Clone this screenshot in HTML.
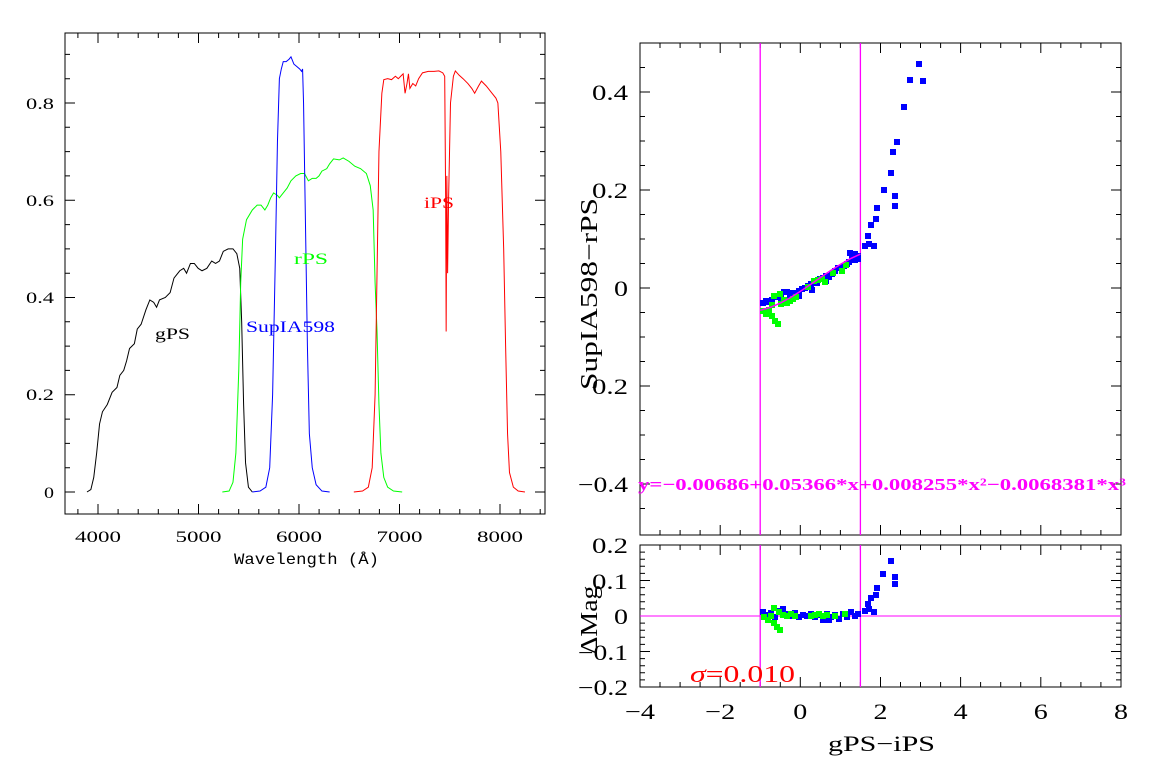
<!DOCTYPE html>
<html><head><meta charset="utf-8"><style>
html,body{margin:0;padding:0;background:#fff;}
svg{display:block;}
text{font-family:"Liberation Serif",serif;}
</style></head><body>
<svg width="1154" height="766" viewBox="0 0 1154 766" xmlns="http://www.w3.org/2000/svg">
<rect width="1154" height="766" fill="#fff"/>
<!-- LEFT PLOT -->
<rect x="65" y="33" width="480" height="481" fill="none" stroke="#000" stroke-width="1"/>
<g stroke="#000" stroke-width="1">
<path d="M98,514v-10M198.5,514v-10M299,514v-10M399.5,514v-10M500,514v-10M98,33v10M198.5,33v10M299,33v10M399.5,33v10M500,33v10"/>
<path d="M77.9,514v-5M118.1,514v-5M138.2,514v-5M158.3,514v-5M178.4,514v-5M218.6,514v-5M238.7,514v-5M258.8,514v-5M278.9,514v-5M319.1,514v-5M339.2,514v-5M359.3,514v-5M379.4,514v-5M419.6,514v-5M439.7,514v-5M459.8,514v-5M479.9,514v-5M520.1,514v-5M540.2,514v-5
M77.9,33v5M118.1,33v5M138.2,33v5M158.3,33v5M178.4,33v5M218.6,33v5M238.7,33v5M258.8,33v5M278.9,33v5M319.1,33v5M339.2,33v5M359.3,33v5M379.4,33v5M419.6,33v5M439.7,33v5M459.8,33v5M479.9,33v5M520.1,33v5M540.2,33v5"/>
<path d="M65,492h10M65,394.75h10M65,297.5h10M65,200.25h10M65,103h10M545,492h-10M545,394.75h-10M545,297.5h-10M545,200.25h-10M545,103h-10"/>
<path d="M65,467.7h5M65,443.4h5M65,419.1h5M65,370.4h5M65,346.1h5M65,321.8h5M65,273.2h5M65,248.9h5M65,224.6h5M65,175.9h5M65,151.6h5M65,127.3h5M65,78.7h5M65,54.4h5
M545,467.7h-5M545,443.4h-5M545,419.1h-5M545,370.4h-5M545,346.1h-5M545,321.8h-5M545,273.2h-5M545,248.9h-5M545,224.6h-5M545,175.9h-5M545,151.6h-5M545,127.3h-5M545,78.7h-5M545,54.4h-5"/>
</g>
<g font-size="16" fill="#000" lengthAdjust="spacingAndGlyphs">
<text x="44" y="498" textLength="10" lengthAdjust="spacingAndGlyphs">0</text>
<text x="26" y="400" textLength="28" lengthAdjust="spacingAndGlyphs">0.2</text>
<text x="26" y="303" textLength="28" lengthAdjust="spacingAndGlyphs">0.4</text>
<text x="26" y="206" textLength="28" lengthAdjust="spacingAndGlyphs">0.6</text>
<text x="26" y="109" textLength="28" lengthAdjust="spacingAndGlyphs">0.8</text>
<text x="75" y="542" textLength="46" lengthAdjust="spacingAndGlyphs">4000</text>
<text x="175.5" y="542" textLength="46" lengthAdjust="spacingAndGlyphs">5000</text>
<text x="276" y="542" textLength="46" lengthAdjust="spacingAndGlyphs">6000</text>
<text x="376.5" y="542" textLength="46" lengthAdjust="spacingAndGlyphs">7000</text>
<text x="477" y="542" textLength="46" lengthAdjust="spacingAndGlyphs">8000</text>
</g>
<text x="234" y="564" font-size="16" textLength="145" lengthAdjust="spacingAndGlyphs" style="font-family:'Liberation Mono',monospace">Wavelength (Å)</text>
<g transform="matrix(0.09668 0 0 -486.25 -289.1 492)" fill="none" stroke-width="1">
<polyline vector-effect="non-scaling-stroke" stroke="#000" points="3890,0 3930,0.005 3960,0.03 3990,0.08 4020,0.14 4050,0.165 4100,0.18 4150,0.205 4200,0.215 4230,0.24 4270,0.25 4300,0.27 4330,0.295 4380,0.305 4410,0.335 4450,0.345 4500,0.375 4540,0.395 4580,0.39 4610,0.38 4640,0.395 4700,0.4 4750,0.41 4790,0.44 4850,0.455 4890,0.46 4920,0.45 4960,0.47 5000,0.47 5040,0.46 5080,0.455 5130,0.46 5180,0.475 5220,0.47 5260,0.475 5300,0.495 5350,0.5 5400,0.5 5440,0.49 5470,0.46 5490,0.35 5510,0.18 5530,0.06 5560,0.01 5600,0"/>
<polyline vector-effect="non-scaling-stroke" stroke="#00ff00" points="5290,0 5360,0.002 5400,0.02 5430,0.08 5460,0.25 5480,0.43 5500,0.52 5540,0.56 5600,0.58 5650,0.59 5690,0.59 5730,0.58 5760,0.59 5790,0.605 5820,0.615 5860,0.61 5880,0.605 5920,0.615 5960,0.625 6000,0.64 6050,0.65 6100,0.655 6140,0.655 6180,0.64 6220,0.645 6260,0.645 6290,0.65 6320,0.66 6370,0.665 6400,0.675 6440,0.685 6500,0.683 6540,0.687 6600,0.68 6660,0.67 6720,0.665 6780,0.655 6820,0.63 6850,0.58 6870,0.43 6890,0.33 6910,0.18 6930,0.08 6960,0.03 7000,0.01 7060,0.002 7150,0"/>
<polyline vector-effect="non-scaling-stroke" stroke="#0000ff" points="5600,0 5680,0.002 5740,0.01 5780,0.05 5810,0.2 5840,0.5 5860,0.72 5880,0.85 5900,0.87 5920,0.885 5950,0.885 5980,0.89 6000,0.895 6030,0.88 6060,0.875 6090,0.87 6110,0.865 6120,0.87 6130,0.8 6150,0.55 6170,0.3 6190,0.12 6220,0.05 6260,0.015 6320,0.002 6400,0"/>
<polyline vector-effect="non-scaling-stroke" stroke="#ff0000" points="6650,0 6740,0.002 6800,0.01 6840,0.05 6870,0.2 6890,0.45 6910,0.7 6940,0.82 6960,0.848 7000,0.85 7040,0.848 7080,0.855 7110,0.85 7140,0.856 7160,0.86 7180,0.82 7200,0.84 7215,0.86 7230,0.83 7260,0.84 7290,0.835 7320,0.85 7360,0.862 7420,0.865 7480,0.865 7530,0.866 7570,0.862 7590,0.855 7600,0.6 7605,0.33 7612,0.65 7620,0.45 7630,0.6 7650,0.8 7680,0.855 7700,0.866 7740,0.857 7780,0.85 7830,0.84 7870,0.83 7900,0.82 7940,0.835 7970,0.845 8020,0.835 8080,0.82 8120,0.81 8140,0.8 8170,0.7 8200,0.5 8220,0.3 8240,0.12 8260,0.04 8300,0.01 8350,0.002 8420,0"/>
</g>
<text x="155" y="339" font-size="16" fill="#000" textLength="35" lengthAdjust="spacingAndGlyphs">gPS</text>
<text x="246" y="332" font-size="16" fill="#0000ff" textLength="89" lengthAdjust="spacingAndGlyphs">SupIA598</text>
<text x="294" y="264" font-size="16" fill="#00ff00" textLength="34" lengthAdjust="spacingAndGlyphs">rPS</text>
<text x="424" y="208" font-size="16" fill="#ff0000" textLength="30" lengthAdjust="spacingAndGlyphs">iPS</text>

<!-- RIGHT PLOTS -->
<rect x="640" y="43" width="481" height="492" fill="none" stroke="#000" stroke-width="1"/>
<rect x="640" y="545" width="481" height="142" fill="none" stroke="#000" stroke-width="1"/>
<g stroke="#000" stroke-width="1">
<path d="M640,535v-10M720.2,535v-10M800.3,535v-10M880.5,535v-10M960.6,535v-10M1040.8,535v-10M640,43v10M720.2,43v10M800.3,43v10M880.5,43v10M960.6,43v10M1040.8,43v10"/>
<path d="M660,535v-5M680.1,535v-5M700.1,535v-5M740.2,535v-5M760.2,535v-5M780.3,535v-5M820.3,535v-5M840.4,535v-5M860.4,535v-5M900.5,535v-5M920.5,535v-5M940.6,535v-5M980.6,535v-5M1000.7,535v-5M1020.7,535v-5M1060.8,535v-5M1080.9,535v-5M1100.9,535v-5
M660,43v5M680.1,43v5M700.1,43v5M740.2,43v5M760.2,43v5M780.3,43v5M820.3,43v5M840.4,43v5M860.4,43v5M900.5,43v5M920.5,43v5M940.6,43v5M980.6,43v5M1000.7,43v5M1020.7,43v5M1060.8,43v5M1080.9,43v5M1100.9,43v5"/>
<path d="M640,687v-10M720.2,687v-10M800.3,687v-10M880.5,687v-10M960.6,687v-10M1040.8,687v-10M640,545v10M720.2,545v10M800.3,545v10M880.5,545v10M960.6,545v10M1040.8,545v10"/>
<path d="M660,687v-5M680.1,687v-5M700.1,687v-5M740.2,687v-5M760.2,687v-5M780.3,687v-5M820.3,687v-5M840.4,687v-5M860.4,687v-5M900.5,687v-5M920.5,687v-5M940.6,687v-5M980.6,687v-5M1000.7,687v-5M1020.7,687v-5M1060.8,687v-5M1080.9,687v-5M1100.9,687v-5
M660,545v5M680.1,545v5M700.1,545v5M740.2,545v5M760.2,545v5M780.3,545v5M820.3,545v5M840.4,545v5M860.4,545v5M900.5,545v5M920.5,545v5M940.6,545v5M980.6,545v5M1000.7,545v5M1020.7,545v5M1060.8,545v5M1080.9,545v5M1100.9,545v5"/>
<path d="M640,484h10M640,386h10M640,288h10M640,190h10M640,92h10M1121,484h-10M1121,386h-10M1121,288h-10M1121,190h-10M1121,92h-10"/>
<path d="M640,508.5h5M640,459.5h5M640,435h5M640,410.5h5M640,361.5h5M640,337h5M640,312.5h5M640,263.5h5M640,239h5M640,214.5h5M640,165.5h5M640,141h5M640,116.5h5M640,67.5h5
M1121,508.5h-5M1121,459.5h-5M1121,435h-5M1121,410.5h-5M1121,361.5h-5M1121,337h-5M1121,312.5h-5M1121,263.5h-5M1121,239h-5M1121,214.5h-5M1121,165.5h-5M1121,141h-5M1121,116.5h-5M1121,67.5h-5"/>
<path d="M640,580.5h10M640,616h10M640,651.5h10M1121,580.5h-10M1121,616h-10M1121,651.5h-10"/>
<path d="M640,552.1h5M640,559.2h5M640,566.3h5M640,573.4h5M640,587.6h5M640,594.7h5M640,601.8h5M640,608.9h5M640,623.1h5M640,630.2h5M640,637.3h5M640,644.4h5M640,658.6h5M640,665.7h5M640,672.8h5M640,679.9h5
M1121,552.1h-5M1121,559.2h-5M1121,566.3h-5M1121,573.4h-5M1121,587.6h-5M1121,594.7h-5M1121,601.8h-5M1121,608.9h-5M1121,623.1h-5M1121,630.2h-5M1121,637.3h-5M1121,644.4h-5M1121,658.6h-5M1121,665.7h-5M1121,672.8h-5M1121,679.9h-5"/>
</g>
<g font-size="22" fill="#000">
<text x="592" y="100" textLength="36" lengthAdjust="spacingAndGlyphs">0.4</text>
<text x="592" y="198" textLength="36" lengthAdjust="spacingAndGlyphs">0.2</text>
<text x="614" y="296" textLength="14" lengthAdjust="spacingAndGlyphs">0</text>
<text x="592" y="394" textLength="36" lengthAdjust="spacingAndGlyphs">0.2</text>
<text x="578" y="492" textLength="50" lengthAdjust="spacingAndGlyphs">−0.4</text>
<text x="592" y="553" textLength="36" lengthAdjust="spacingAndGlyphs">0.2</text>
<text x="592" y="589" textLength="36" lengthAdjust="spacingAndGlyphs">0.1</text>
<text x="614" y="624" textLength="14" lengthAdjust="spacingAndGlyphs">0</text>
<text x="578" y="660" textLength="50" lengthAdjust="spacingAndGlyphs">−0.1</text>
<text x="578" y="695" textLength="50" lengthAdjust="spacingAndGlyphs">−0.2</text>
<text x="625" y="719" textLength="30" lengthAdjust="spacingAndGlyphs">−4</text>
<text x="705.2" y="719" textLength="30" lengthAdjust="spacingAndGlyphs">−2</text>
<text x="793.3" y="719" textLength="14" lengthAdjust="spacingAndGlyphs">0</text>
<text x="873.5" y="719" textLength="14" lengthAdjust="spacingAndGlyphs">2</text>
<text x="953.6" y="719" textLength="14" lengthAdjust="spacingAndGlyphs">4</text>
<text x="1033.8" y="719" textLength="14" lengthAdjust="spacingAndGlyphs">6</text>
<text x="1114" y="719" textLength="14" lengthAdjust="spacingAndGlyphs">8</text>
</g>
<text x="828" y="751" font-size="22" fill="#000" textLength="107" lengthAdjust="spacingAndGlyphs">gPS−iPS</text>
<text transform="translate(597,294) rotate(-90)" font-size="24" text-anchor="middle" fill="#000" textLength="192" lengthAdjust="spacingAndGlyphs">SupIA598−rPS</text>
<text transform="translate(597,620) rotate(-90)" font-size="24" text-anchor="middle" fill="#000" textLength="69" lengthAdjust="spacingAndGlyphs">ΔMag</text>

<g stroke="#ff00ff" stroke-width="1.3" fill="none">
<path d="M760.2,43V535M860.4,43V535M760.2,545V687M860.4,545V687"/>
<path d="M640,616H1121" stroke-width="1"/>
</g>

<g fill="#0000ff">
<rect x="760" y="300" width="6" height="6"/><rect x="763" y="298" width="6" height="6"/><rect x="766" y="299" width="6" height="6"/><rect x="769" y="297" width="6" height="6"/><rect x="772" y="294" width="6" height="6"/><rect x="775" y="293" width="6" height="6"/><rect x="778" y="295" width="6" height="6"/><rect x="781" y="289" width="6" height="6"/><rect x="784" y="289" width="6" height="6"/><rect x="787" y="292" width="6" height="6"/><rect x="790" y="290" width="6" height="6"/><rect x="793" y="291" width="6" height="6"/><rect x="796" y="288" width="6" height="6"/><rect x="799" y="286" width="6" height="6"/><rect x="802" y="285" width="6" height="6"/><rect x="805" y="283" width="6" height="6"/><rect x="808" y="281" width="6" height="6"/><rect x="811" y="279" width="6" height="6"/><rect x="814" y="280" width="6" height="6"/><rect x="817" y="276" width="6" height="6"/><rect x="820" y="275" width="6" height="6"/><rect x="823" y="273" width="6" height="6"/><rect x="826" y="274" width="6" height="6"/><rect x="829" y="271" width="6" height="6"/><rect x="832" y="268" width="6" height="6"/><rect x="835" y="265" width="6" height="6"/><rect x="838" y="265" width="6" height="6"/><rect x="841" y="263" width="6" height="6"/><rect x="844" y="261" width="6" height="6"/><rect x="846" y="259" width="6" height="6"/><rect x="849" y="255" width="6" height="6"/><rect x="852" y="257" width="6" height="6"/><rect x="855" y="253" width="6" height="6"/><rect x="855" y="256" width="6" height="6"/><rect x="796" y="293" width="6" height="6"/><rect x="809" y="287" width="6" height="6"/><rect x="823" y="278" width="6" height="6"/><rect x="847" y="250" width="6" height="6"/>
<rect x="852" y="251" width="6" height="6"/><rect x="855" y="255" width="6" height="6"/>
<rect x="862" y="243" width="6" height="6"/><rect x="865" y="233" width="6" height="6"/><rect x="868" y="222" width="6" height="6"/><rect x="871" y="243" width="6" height="6"/><rect x="873" y="216" width="6" height="6"/><rect x="874" y="205" width="6" height="6"/><rect x="881" y="187" width="6" height="6"/><rect x="888" y="170" width="6" height="6"/><rect x="890" y="149" width="6" height="6"/><rect x="892" y="193" width="6" height="6"/><rect x="892" y="203" width="6" height="6"/><rect x="894" y="139" width="6" height="6"/><rect x="901" y="104" width="6" height="6"/><rect x="907" y="77" width="6" height="6"/><rect x="916" y="61" width="6" height="6"/><rect x="920" y="78" width="6" height="6"/><rect x="866" y="241" width="6" height="6"/>
</g>
<g fill="#00ff00">
<rect x="760" y="308" width="6" height="6"/><rect x="763" y="311" width="6" height="6"/><rect x="766" y="307" width="6" height="6"/><rect x="769" y="313" width="6" height="6"/><rect x="772" y="318" width="6" height="6"/><rect x="775" y="321" width="6" height="6"/><rect x="778" y="301" width="6" height="6"/><rect x="781" y="297" width="6" height="6"/><rect x="784" y="300" width="6" height="6"/><rect x="787" y="298" width="6" height="6"/><rect x="790" y="296" width="6" height="6"/><rect x="793" y="294" width="6" height="6"/><rect x="777" y="291" width="6" height="6"/><rect x="771" y="293" width="6" height="6"/><rect x="811" y="278" width="6" height="6"/><rect x="815" y="277" width="6" height="6"/><rect x="819" y="276" width="6" height="6"/><rect x="822" y="279" width="6" height="6"/><rect x="830" y="270" width="6" height="6"/><rect x="839" y="268" width="6" height="6"/><rect x="843" y="262" width="6" height="6"/><rect x="765" y="311" width="6" height="6"/><rect x="769" y="302" width="6" height="6"/><rect x="805" y="284" width="6" height="6"/>
</g>
<polyline fill="none" stroke="#ff00ff" stroke-width="1.5" points="760.2,310.3 770.2,307.4 780.3,303.1 790.3,297.6 800.3,291.4 810.3,284.6 820.3,277.6 830.4,270.8 840.4,264.4 850.4,258.7 860.4,254.1"/>

<g fill="#0000ff">
<rect x="760" y="609" width="6" height="6"/><rect x="764" y="612" width="6" height="6"/><rect x="768" y="610" width="6" height="6"/><rect x="772" y="614" width="6" height="6"/><rect x="776" y="608" width="6" height="6"/><rect x="780" y="606" width="6" height="6"/><rect x="784" y="611" width="6" height="6"/><rect x="788" y="613" width="6" height="6"/><rect x="792" y="610" width="6" height="6"/><rect x="796" y="614" width="6" height="6"/><rect x="800" y="612" width="6" height="6"/><rect x="804" y="613" width="6" height="6"/><rect x="808" y="611" width="6" height="6"/><rect x="812" y="614" width="6" height="6"/><rect x="816" y="612" width="6" height="6"/><rect x="820" y="617" width="6" height="6"/><rect x="824" y="611" width="6" height="6"/><rect x="828" y="614" width="6" height="6"/><rect x="832" y="612" width="6" height="6"/><rect x="836" y="616" width="6" height="6"/><rect x="840" y="611" width="6" height="6"/><rect x="844" y="614" width="6" height="6"/><rect x="848" y="609" width="6" height="6"/><rect x="852" y="613" width="6" height="6"/><rect x="855" y="611" width="6" height="6"/><rect x="826" y="617" width="6" height="6"/>
<rect x="862" y="608" width="6" height="6"/><rect x="865" y="601" width="6" height="6"/><rect x="868" y="595" width="6" height="6"/><rect x="871" y="609" width="6" height="6"/><rect x="873" y="592" width="6" height="6"/><rect x="874" y="585" width="6" height="6"/><rect x="880" y="571" width="6" height="6"/><rect x="888" y="558" width="6" height="6"/><rect x="892" y="574" width="6" height="6"/><rect x="892" y="581" width="6" height="6"/><rect x="866" y="606" width="6" height="6"/>
</g>
<g fill="#00ff00">
<rect x="761" y="614" width="6" height="6"/><rect x="765" y="617" width="6" height="6"/><rect x="768" y="613" width="6" height="6"/><rect x="771" y="620" width="6" height="6"/><rect x="774" y="624" width="6" height="6"/><rect x="777" y="627" width="6" height="6"/><rect x="771" y="605" width="6" height="6"/><rect x="780" y="612" width="6" height="6"/><rect x="784" y="613" width="6" height="6"/><rect x="788" y="611" width="6" height="6"/><rect x="792" y="613" width="6" height="6"/><rect x="776" y="609" width="6" height="6"/><rect x="812" y="612" width="6" height="6"/><rect x="816" y="611" width="6" height="6"/><rect x="820" y="613" width="6" height="6"/><rect x="824" y="612" width="6" height="6"/><rect x="832" y="613" width="6" height="6"/><rect x="842" y="611" width="6" height="6"/><rect x="808" y="613" width="6" height="6"/>
</g>

<text x="638" y="490" font-size="17" font-weight="bold" fill="#ff00ff" textLength="488" lengthAdjust="spacingAndGlyphs">y=−0.00686+0.05366*x+0.008255*x²−0.0068381*x³</text>
<text x="690" y="682" font-size="24" fill="#ff0000" textLength="105" lengthAdjust="spacingAndGlyphs"><tspan font-style="italic">σ</tspan>=0.010</text>
</svg>
</body></html>
